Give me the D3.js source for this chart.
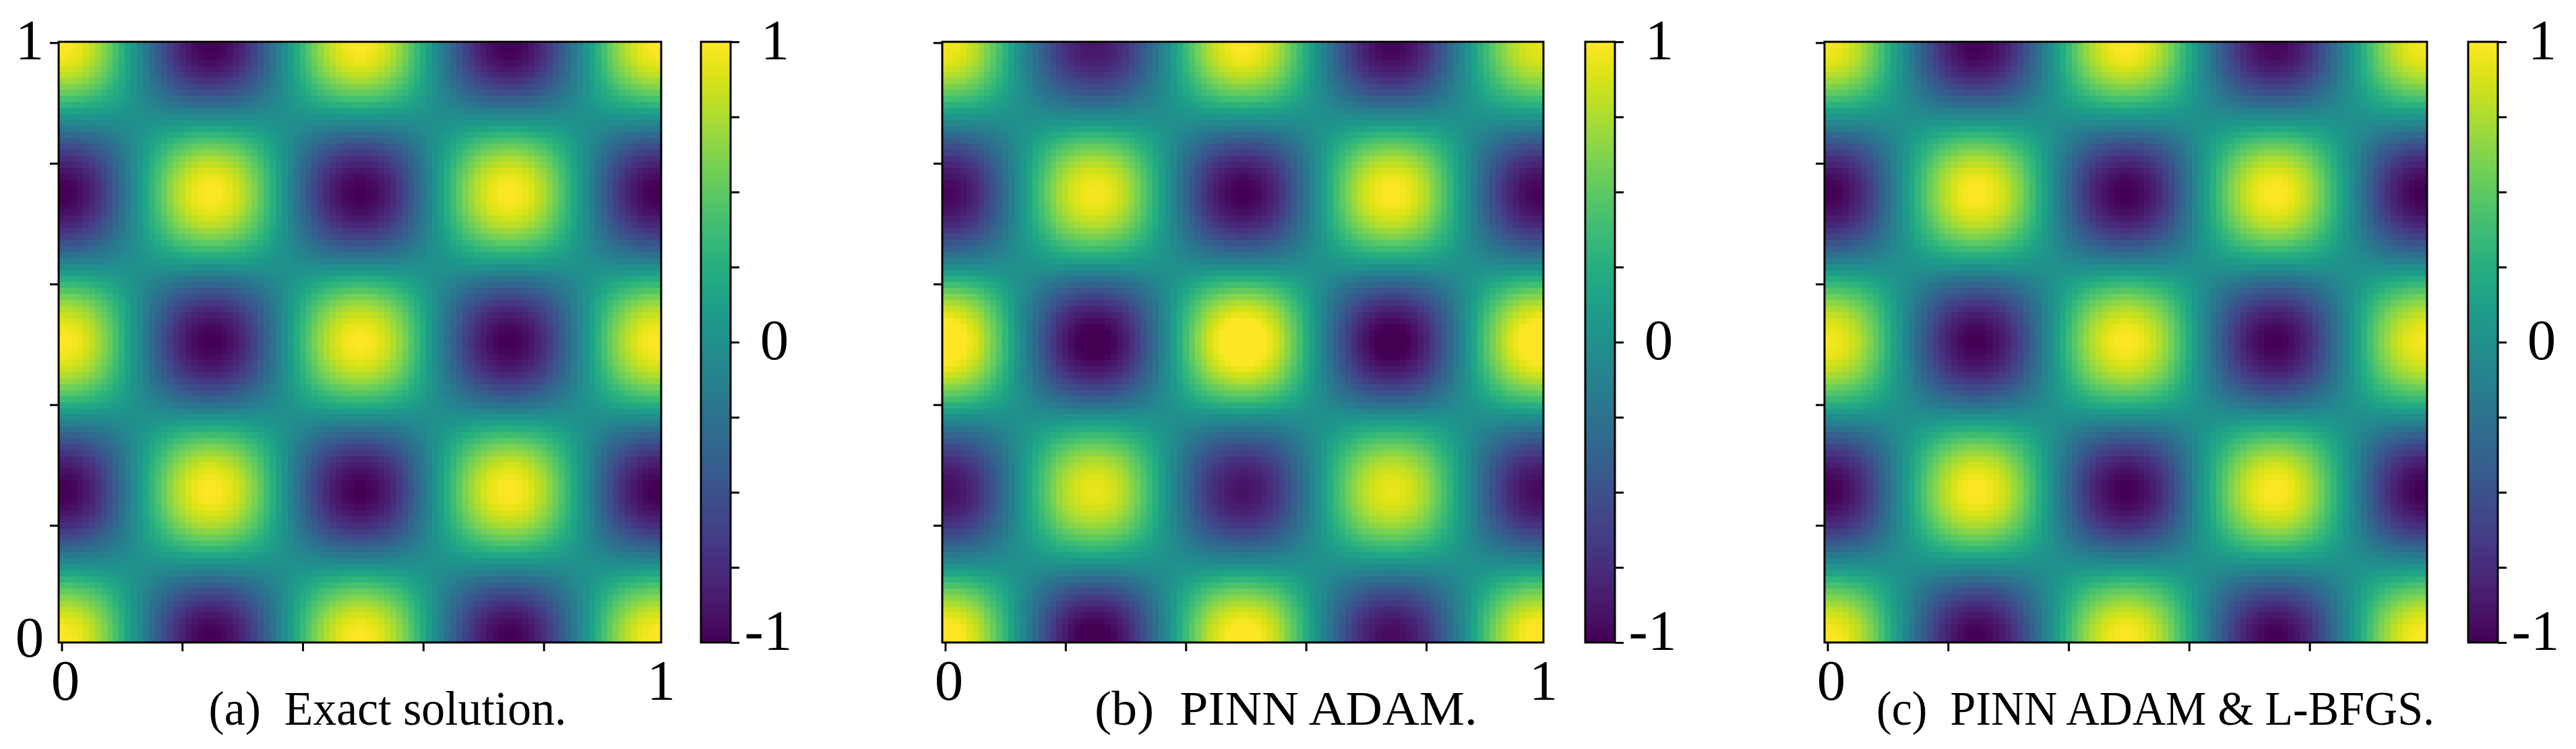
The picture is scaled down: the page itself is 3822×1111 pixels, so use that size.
<!DOCTYPE html>
<meta charset="utf-8">
<style>
	body { margin: 0; background: #fff; }
	text { font-family: "Liberation Serif", serif; fill: #000; }
	.digit { font-size: 85px; text-anchor: middle; }
	.caption { font-size: 72px; text-anchor: middle; }
	.tick line, .frame { stroke: #000; stroke-width: 3; }
	.frame { fill: none; }
	.domain { display: none; }
	.cell, .level { shape-rendering: crispEdges; }
</style>
<body>
<script src="https://d3js.org/d3.v7.min.js"></script>
<script>

	// value along one axis of a panel
	var profile = [
		1.00, .99, .97, .93, .87, .81, .72, .63, .53, .42,
		.30, .17, .05, -.08, -.20, -.33, -.44, -.55, -.65, -.75,
		-.82, -.89, -.94, -.98, -1.00, -1.00, -.99, -.96, -.92, -.86,
		-.79, -.70, -.61, -.50, -.39, -.27, -.14, -.02, .11, .24,
		.36, .47, .58, .68, .77, .84, .90, .95, .98, 1.00,
		1.00, .98, .95, .90, .84, .77, .68, .58, .47, .36,
		.24, .11, -.02, -.14, -.27, -.39, -.50, -.61, -.70, -.79,
		-.86, -.92, -.96, -.99, -1.00, -1.00, -.98, -.94, -.89, -.82,
		-.75, -.65, -.55, -.44, -.33, -.20, -.08, .05, .17, .30,
		.42, .53, .63, .72, .81, .87, .93, .97, .99, 1.00
	];

	// height of each blob, top row first
	var peaksExact = [
		[1, -1, 1, -1, 1],
		[-1, 1, -1, 1, -1],
		[1, -1, 1, -1, 1],
		[-1, 1, -1, 1, -1],
		[1, -1, 1, -1, 1]
	];
	var peaksAdam = [
		[.97, -.88, 1, -.98, .92],
		[-.97, .97, -1, 1, -.98],
		[1.1, -1.05, 1.12, -1.05, 1.1],
		[-.93, .93, -.9, .93, -.95],
		[1.05, -1.05, 1.05, -.95, 1.05]
	];
	var peaksLbfgs = [
		[.97, -1, 1, -.97, .97],
		[-1, 1, -1, 1, -1],
		[.97, -1, 1, -1, .97],
		[-1, 1, -1, 1, -1],
		[1, -1, 1, -1, 1]
	];

	var captions = ["(a)\u2002Exact solution.", "(b)\u2002PINN ADAM.", "(c)\u2002PINN ADAM & L-BFGS."];
	var gridTicks = [0, 20, 40, 60, 80];
	var colorTicks = [-1, -.75, -.5, -.25, 0, .25, .5, .75, 1];
	var colorLabels = ["-1", "0", "1"];

	var panels = [
		{peaks: peaksExact, left: 87, width: 894, barLeft: 1040, captionX: 575, captionW: 531, endLabel: true},
		{peaks: peaksAdam, left: 1398, width: 892, barLeft: 2352, captionX: 1908, captionW: 568, endLabel: true},
		{peaks: peaksLbfgs, left: 2707, width: 894, barLeft: 3662, captionX: 3198, captionW: 828, endLabel: false}
	];
	panels.forEach(function(p, i) { p.caption = captions[i]; });

	var plotTop = 62, plotBottom = 953, barWidth = 44;

	var color = d3.scaleSequential(d3.interpolateViridis).domain([-1, 1]).clamp(true);
	var cellIndex = d3.range(profile.length);

	// which blob each cell belongs to: count the sign changes of the profile
	var lobe = [];
	profile.forEach(function(v, i) {
		lobe.push(i === 0 ? 0 : lobe[i - 1] + (v * profile[i - 1] < 0 ? 1 : 0));
	});

	var svg = d3.select("body").append("svg")
		.attr("width", 3822)
		.attr("height", 1111);

	var yTick = d3.scaleLinear().domain([0, 100]).range([63.3, 958.3]);
	var yCell = d3.scaleBand().domain(cellIndex).range([plotTop, plotBottom]);
	var barScale = d3.scaleLinear().domain([-1, 1]).range([plotBottom, plotTop]);
	var levels = d3.range(256);
	var yLevel = d3.scaleBand().domain(levels).range([plotBottom, plotTop]);

	panels.forEach(function(p) {
		var g = svg.append("g");
		var xCell = d3.scaleBand().domain(cellIndex).range([p.left, p.left + p.width]);
		var xTick = d3.scaleLinear().domain([-0.5, 99.5]).range([p.left, p.left + p.width]);

		var cells = d3.cross(cellIndex, cellIndex, function(i, j) {
			return {i: i, j: j, v: Math.abs(profile[i] * profile[j]) * p.peaks[lobe[j]][lobe[i]]};
		});

		g.selectAll(".cell")
			.data(cells)
			.enter().append("rect")
			.attr("class", "cell")
			.attr("x", function(d) { return xCell(d.i); })
			.attr("y", function(d) { return yCell(d.j); })
			.attr("width", xCell.bandwidth() + 0.5)
			.attr("height", yCell.bandwidth() + 0.5)
			.style("fill", function(d) { return color(d.v); });

		g.append("rect")
			.attr("class", "frame")
			.attr("x", p.left)
			.attr("y", plotTop)
			.attr("width", p.width)
			.attr("height", plotBottom - plotTop);

		g.append("g")
			.attr("transform", "translate(0," + plotBottom + ")")
			.call(d3.axisBottom(xTick).tickValues(gridTicks).tickSize(13).tickFormat(""));
		g.append("g")
			.attr("transform", "translate(" + p.left + ",0)")
			.call(d3.axisLeft(yTick).tickValues(gridTicks).tickSize(13).tickFormat(""));

		// corner labels of the grid
		g.append("text").attr("class", "digit").attr("x", p.left + 10).attr("y", 1038).text("0");
		if (p.endLabel) {
			g.append("text").attr("class", "digit").attr("x", p.left + p.width).attr("y", 1038).text("1");
		}
		if (p === panels[0]) {
			g.append("text").attr("class", "digit").attr("x", p.left - 43).attr("y", 88).text("1");
			g.append("text").attr("class", "digit").attr("x", p.left - 43).attr("y", 974).text("0");
		}

		g.append("text")
			.attr("class", "caption")
			.attr("x", p.captionX)
			.attr("y", 1075)
			.attr("textLength", p.captionW)
			.attr("lengthAdjust", "spacingAndGlyphs")
			.text(p.caption);

		// colour bar
		g.selectAll(".level")
			.data(levels)
			.enter().append("rect")
			.attr("class", "level")
			.attr("x", p.barLeft)
			.attr("y", function(d) { return yLevel(d); })
			.attr("width", barWidth)
			.attr("height", yLevel.bandwidth() + 0.5)
			.style("fill", function(d) { return color(-1 + 2 * d / 255); });

		g.append("rect")
			.attr("class", "frame")
			.attr("x", p.barLeft)
			.attr("y", plotTop)
			.attr("width", barWidth)
			.attr("height", plotBottom - plotTop);

		g.append("g")
			.attr("transform", "translate(" + (p.barLeft + barWidth) + ",0)")
			.call(d3.axisRight(barScale).tickValues(colorTicks).tickSize(13).tickFormat(""));

		var labelY = [964, 533, 88];
		var labelX = [100, 109, 110];
		colorLabels.forEach(function(t, i) {
			g.append("text")
				.attr("class", "digit")
				.attr("x", p.barLeft + labelX[i])
				.attr("y", labelY[i])
				.text(t);
		});
	});
</script>
</body>
